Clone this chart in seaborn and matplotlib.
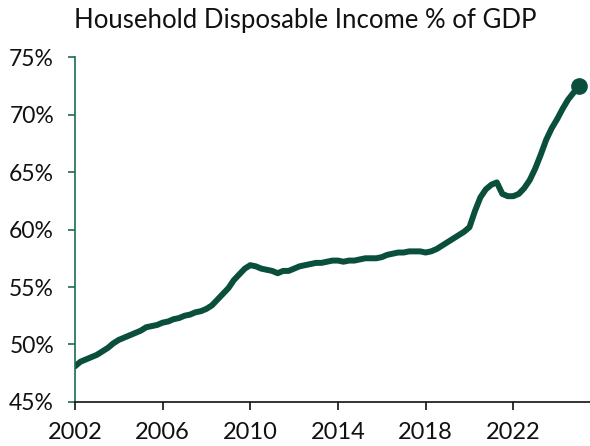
import numpy as np
import pandas as pd
import matplotlib
matplotlib.use("Agg")
import matplotlib.pyplot as plt
import seaborn as sns
from matplotlib.ticker import FuncFormatter

# ---- data (quarterly, starting 2002 Q1) ----
start_year = 2002
values = [
    48.1, 48.5, 48.7, 48.9,   # 2002
    49.1, 49.4, 49.7, 50.1,   # 2003
    50.4, 50.6, 50.8, 51.0,   # 2004
    51.2, 51.5, 51.6, 51.7,   # 2005
    51.9, 52.0, 52.2, 52.3,   # 2006
    52.5, 52.6, 52.8, 52.9,   # 2007
    53.1, 53.4, 53.9, 54.4,   # 2008
    54.9, 55.6, 56.1, 56.6,   # 2009
    56.9, 56.8, 56.6, 56.5,   # 2010
    56.4, 56.2, 56.4, 56.4,   # 2011
    56.6, 56.8, 56.9, 57.0,   # 2012
    57.1, 57.1, 57.2, 57.3,   # 2013
    57.3, 57.2, 57.3, 57.3,   # 2014
    57.4, 57.5, 57.5, 57.5,   # 2015
    57.6, 57.8, 57.9, 58.0,   # 2016
    58.0, 58.1, 58.1, 58.1,   # 2017
    58.0, 58.1, 58.3, 58.6,   # 2018
    58.9, 59.2, 59.5, 59.8,   # 2019
    60.2, 61.6, 62.8, 63.5,   # 2020
    63.9, 64.1, 63.1, 62.9,   # 2021
    62.9, 63.1, 63.6, 64.3,   # 2022
    65.3, 66.5, 67.8, 68.8,   # 2023
    69.6, 70.5, 71.3, 71.9,   # 2024
    72.5,                     # 2025
]
x_ticks = [2002, 2006, 2010, 2014, 2018, 2022]
y_ticks = [45, 50, 55, 60, 65, 70, 75]
title = "Household Disposable Income % of GDP"

years = [start_year + 0.25 * i for i in range(len(values))]
df = pd.DataFrame({"year": years, "share": values})

# ---- style ----
sns.set_theme(style="white")
plt.rcParams["font.family"] = ["Lato", "DejaVu Sans"]
green = "#0a4f3c"
spine_green = "#1d6b55"

fig = plt.figure(figsize=(5.9, 4.46), dpi=100)
ax = fig.add_axes([0.127, 0.0987, 0.873, 0.7733])

sns.lineplot(data=df, x="year", y="share", ax=ax, color=green,
             linewidth=4.3, solid_capstyle="round", solid_joinstyle="round")
ax.plot(df["year"].iloc[-1], df["share"].iloc[-1], "o", color=green,
        markersize=11, zorder=5)

ax.set_xlim(2002, 2025.5)
ax.set_ylim(45, 75)
ax.set_xticks(x_ticks)
ax.set_yticks(y_ticks)
ax.yaxis.set_major_formatter(FuncFormatter(lambda v, p: f"{int(v)}%"))
ax.set_xlabel("")
ax.set_ylabel("")

for s in ["top", "right"]:
    ax.spines[s].set_visible(False)
ax.spines["left"].set_color(spine_green)
ax.spines["left"].set_linewidth(1.2)
ax.spines["bottom"].set_color("#111111")
ax.spines["bottom"].set_linewidth(1.2)

ax.tick_params(axis="y", length=5, width=1.2, color=spine_green, pad=10,
               labelsize=16.5, labelcolor="#111111", left=True)
ax.tick_params(axis="x", length=5.5, width=1.2, color="#111111", pad=9,
               labelsize=17, labelcolor="#111111", bottom=True)

fig.text(0.518, 0.955, title, ha="center", va="center", fontsize=18.5, color="#111111")

fig.savefig("out.png", dpi=100)
